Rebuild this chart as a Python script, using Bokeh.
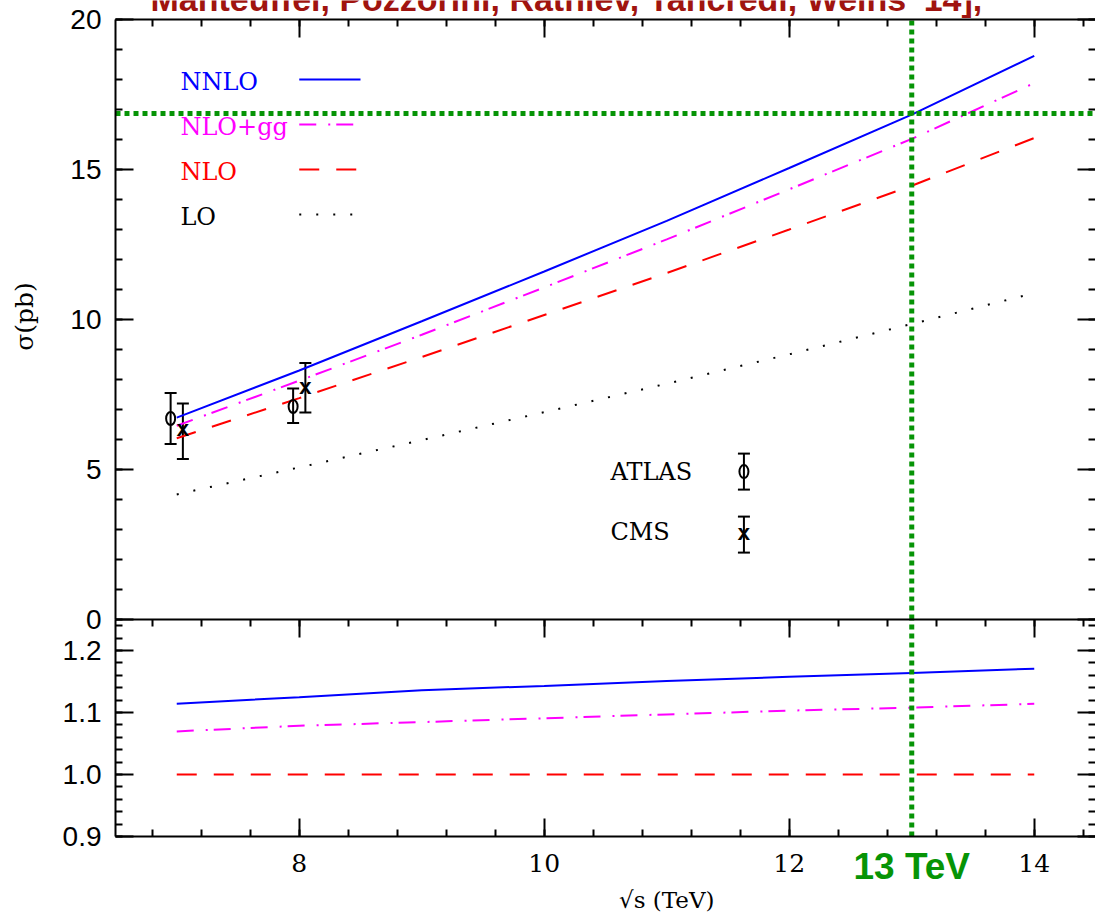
import math
from bokeh.plotting import figure
from bokeh.models import (LinearAxis, SingleIntervalTicker, Label, Whisker,
                          TeeHead, ColumnDataSource, Range1d, PrintfTickFormatter)
from bokeh.embed import file_html
from bokeh.resources import INLINE
from bokeh.core.properties import value

# ---------------- data ----------------
sqrt_s = [7, 8, 9, 10, 11, 12, 13, 14]
sigma_lo = [4.17, 5.07, 5.98, 6.91, 7.86, 8.84, 9.85, 10.88]
sigma_nlo = [6.04, 7.38, 8.75, 10.15, 11.55, 13.00, 14.46, 16.05]
sigma_nlo_gg = [6.46, 7.96, 9.49, 11.07, 12.67, 14.34, 16.02, 17.88]
sigma_nnlo = [6.73, 8.30, 9.94, 11.60, 13.29, 15.05, 16.83, 18.79]

atlas_x = [6.95, 7.95]
atlas_y = [6.7, 7.1]
atlas_lo = [5.85, 6.55]
atlas_hi = [7.55, 7.7]

cms_x = [7.05, 8.05]
cms_y = [6.3, 7.7]
cms_lo = [5.35, 6.9]
cms_hi = [7.2, 8.55]

highlight_energy = 13.0
highlight_sigma = 16.87

series_names = ["NNLO", "NLO+gg", "NLO", "LO"]
title_text = "Manteuffel, Pozzorini, Rathlev, Tancredi, Weihs '14],"

# ---------------- layout / style ----------------
W, H = 1095, 913
LEFT_PX = 115
X0, X1 = 6.5, 14.5               # x axis bounds
SIG0, SIG1 = 0.0, 20.0           # upper panel axis bounds
RAT0, RAT1 = 0.9, 1.25           # ratio panel axis bounds
TOP_PX, MID_PX, BOT_PX = 19, 619, 836
x_scale = (W - LEFT_PX) / (X1 - X0)
sig_scale = (MID_PX - TOP_PX) / (SIG1 - SIG0)
rat_scale = (BOT_PX - MID_PX) / (RAT1 - RAT0)
x_range = Range1d(X0 - LEFT_PX / x_scale, X1)
sig_range = Range1d(SIG1 - (H - TOP_PX) / sig_scale, SIG1 + TOP_PX / sig_scale)
rat_range = Range1d(RAT0 - (H - BOT_PX) / rat_scale, RAT1 + MID_PX / rat_scale)


def x_at(px):   # page x -> data x
    return X0 + (px - LEFT_PX) / x_scale


def sig_at(py):  # page y -> upper-panel data y
    return SIG1 - (py - TOP_PX) / sig_scale


def rat_at(py):  # page y -> ratio-panel data y
    return RAT0 - (py - BOT_PX) / rat_scale


BLUE = "#0000ff"
MAGENTA = "#ff00ff"
RED = "#ff0000"
BLACK = "#000000"
GREEN = "#069406"
TITLE_RED = "#a0140f"
SERIF = "DejaVu Serif"
SANS = "Liberation Sans"

styles = {
    "NNLO": dict(line_color=BLUE, line_width=2),
    "NLO+gg": dict(line_color=MAGENTA, line_width=2, line_dash="17 12 2 6"),
    "NLO": dict(line_color=RED, line_width=2, line_dash="20 17"),
    "LO": dict(line_color=BLACK, line_width=2, line_dash="2 15"),
}
label_colors = {"NNLO": BLUE, "NLO+gg": MAGENTA, "NLO": RED, "LO": BLACK}
green_line = dict(line_color=GREEN, line_width=5, line_dash="5 4")


def style_axis(ax, labels=True, font=SANS, size="28px", standoff=14, line=True):
    ax.major_tick_in = 18
    ax.major_tick_out = 0
    ax.minor_tick_in = 7
    ax.minor_tick_out = 0
    ax.major_tick_line_width = 2
    ax.minor_tick_line_width = 2
    ax.axis_line_width = 2
    ax.axis_line_color = BLACK if line else None
    ax.major_tick_line_color = BLACK
    ax.minor_tick_line_color = BLACK
    if labels:
        ax.major_label_text_font = font
        ax.major_label_text_font_size = size
        ax.major_label_text_color = BLACK
        ax.major_label_standoff = standoff
    else:
        ax.major_label_text_font_size = "0px"
        ax.major_label_standoff = 0
    return ax


def x_ticker():
    return SingleIntervalTicker(interval=2, num_minor_ticks=5)


def sig_ticker():
    return SingleIntervalTicker(interval=5, num_minor_ticks=5)


def rat_ticker():
    return SingleIntervalTicker(interval=0.1, num_minor_ticks=5)


p = figure(width=W, height=H, x_range=x_range, y_range=sig_range,
           x_axis_location=None, y_axis_location=None,
           output_backend="svg", toolbar_location=None,
           min_border_left=0, min_border_right=0, min_border_top=0, min_border_bottom=0)
p.extra_y_ranges = {"ratio": rat_range}
p.grid.visible = False
p.outline_line_color = None
p.background_fill_color = "white"
p.border_fill_color = "white"

# ---- axes drawn on the panel edges ----
p.add_layout(style_axis(LinearAxis(bounds=(SIG0, SIG1), fixed_location=X0, ticker=sig_ticker())),
             "left")
p.add_layout(style_axis(LinearAxis(y_range_name="ratio", bounds=(RAT0, RAT1), fixed_location=X0,
                                   ticker=rat_ticker(),
                                   formatter=PrintfTickFormatter(format="%.1f"))), "left")
p.add_layout(style_axis(LinearAxis(bounds=(SIG0, SIG1), fixed_location=X1, ticker=sig_ticker()),
                        labels=False, line=False), "right")
p.add_layout(style_axis(LinearAxis(y_range_name="ratio", bounds=(RAT0, RAT1), fixed_location=X1,
                                   ticker=rat_ticker()), labels=False, line=False), "right")
p.add_layout(style_axis(LinearAxis(bounds=(X0, X1), fixed_location=SIG1, ticker=x_ticker()),
                        labels=False), "above")
p.add_layout(style_axis(LinearAxis(y_range_name="ratio", bounds=(X0, X1), fixed_location=RAT1,
                                   ticker=x_ticker()), labels=False), "above")
p.add_layout(style_axis(LinearAxis(y_range_name="ratio", bounds=(X0, X1), fixed_location=RAT0,
                                   ticker=x_ticker()), font=SERIF, size="25px", standoff=17),
             "below")

# axis titles
p.add_layout(Label(x=x_at(24), y=sig_at(316), text="σ(pb)", angle=math.pi / 2,
                   text_font=SERIF, text_font_size="25px", text_color=BLACK,
                   text_align="center", text_baseline="middle"))
p.add_layout(Label(x=11.0, y=rat_at(899), y_range_name="ratio", text="√s (TeV)",
                   text_font=SERIF, text_font_size="23px", text_color=BLACK,
                   text_align="center", text_baseline="alphabetic"))

# ---- upper panel: cross sections ----
curves = {"NNLO": sigma_nnlo, "NLO+gg": sigma_nlo_gg, "NLO": sigma_nlo, "LO": sigma_lo}
for name in series_names:
    p.line(sqrt_s, curves[name], **styles[name])

p.line([X0, X1], [highlight_sigma, highlight_sigma], **green_line)
p.line([highlight_energy, highlight_energy], [SIG0, SIG1], **green_line)

# legend of theory curves (label, then line sample)
leg_text_x = 7.03
leg_line_x0, leg_line_x1 = 8.0, 8.5
leg_y0, leg_dy = 18.0, 1.5
for i, name in enumerate(series_names):
    yy = leg_y0 - i * leg_dy
    p.line([leg_line_x0, leg_line_x1], [yy, yy], **styles[name])
    p.text(x=[leg_text_x], y=[yy - 0.07], text=[name], text_font=value(SERIF),
           text_font_size="24px", text_color=label_colors[name],
           text_align="left", text_baseline="alphabetic")

# measured points
head = dict(size=12, line_width=2, line_color=BLACK)
src_atlas = ColumnDataSource(dict(x=atlas_x, y=atlas_y, lo=atlas_lo, hi=atlas_hi))
src_cms = ColumnDataSource(dict(x=cms_x, y=cms_y, lo=cms_lo, hi=cms_hi))


def draw_points(src, kind):
    p.add_layout(Whisker(base="x", upper="hi", lower="lo", source=src, dimension="height",
                         line_width=2, line_color=BLACK,
                         upper_head=TeeHead(**head), lower_head=TeeHead(**head)))
    if kind == "o":
        p.ellipse(x="x", y="y", width=9, height=13, width_units="screen",
                  height_units="screen", fill_color=None, line_color=BLACK,
                  line_width=2, source=src)
    else:
        p.text(x="x", y="y", text=value("x"), source=src, text_font=value("Liberation Mono"),
               text_font_size="22px", text_font_style="bold", text_align="center",
               text_baseline="middle", text_color=BLACK)


draw_points(src_atlas, "o")
draw_points(src_cms, "x")

# experiment legend
exp_text_x = 10.54
exp_marker_x = 11.63
exp_rows = [("ATLAS", 4.93, 4.93, "o"), ("CMS", 2.83, 2.93, "x")]
exp_half = 0.6
for name, yy, ty, kind in exp_rows:
    p.text(x=[exp_text_x], y=[ty], text=[name], text_font=value(SERIF),
           text_font_size="24px", text_color=BLACK, text_align="left",
           text_baseline="alphabetic")
    s = ColumnDataSource(dict(x=[exp_marker_x], y=[yy], lo=[yy - exp_half], hi=[yy + exp_half]))
    draw_points(s, kind)

# cut-off reference title at the very top
p.add_layout(Label(x=x_at(150), y=sig_at(-2), text=title_text, text_font=SANS,
                   text_font_size="34px", text_font_style="bold", text_color=TITLE_RED,
                   text_align="left", text_baseline="alphabetic"))

# ---- lower panel: ratio to NLO ----
ratios = {name: [v / n for v, n in zip(curves[name], sigma_nlo)]
          for name in ["NNLO", "NLO+gg", "NLO"]}
for name in ["NNLO", "NLO+gg", "NLO"]:
    p.line(sqrt_s, ratios[name], y_range_name="ratio", **styles[name])

p.line([highlight_energy, highlight_energy], [RAT0, RAT1], y_range_name="ratio", **green_line)

p.add_layout(Label(x=highlight_energy, y=rat_at(866), y_range_name="ratio", text="13 TeV",
                   text_font=SANS, text_font_size="37px", text_font_style="bold",
                   text_color=GREEN, text_align="center", text_baseline="alphabetic"))

open("out.html", "w").write(file_html(p, INLINE))
